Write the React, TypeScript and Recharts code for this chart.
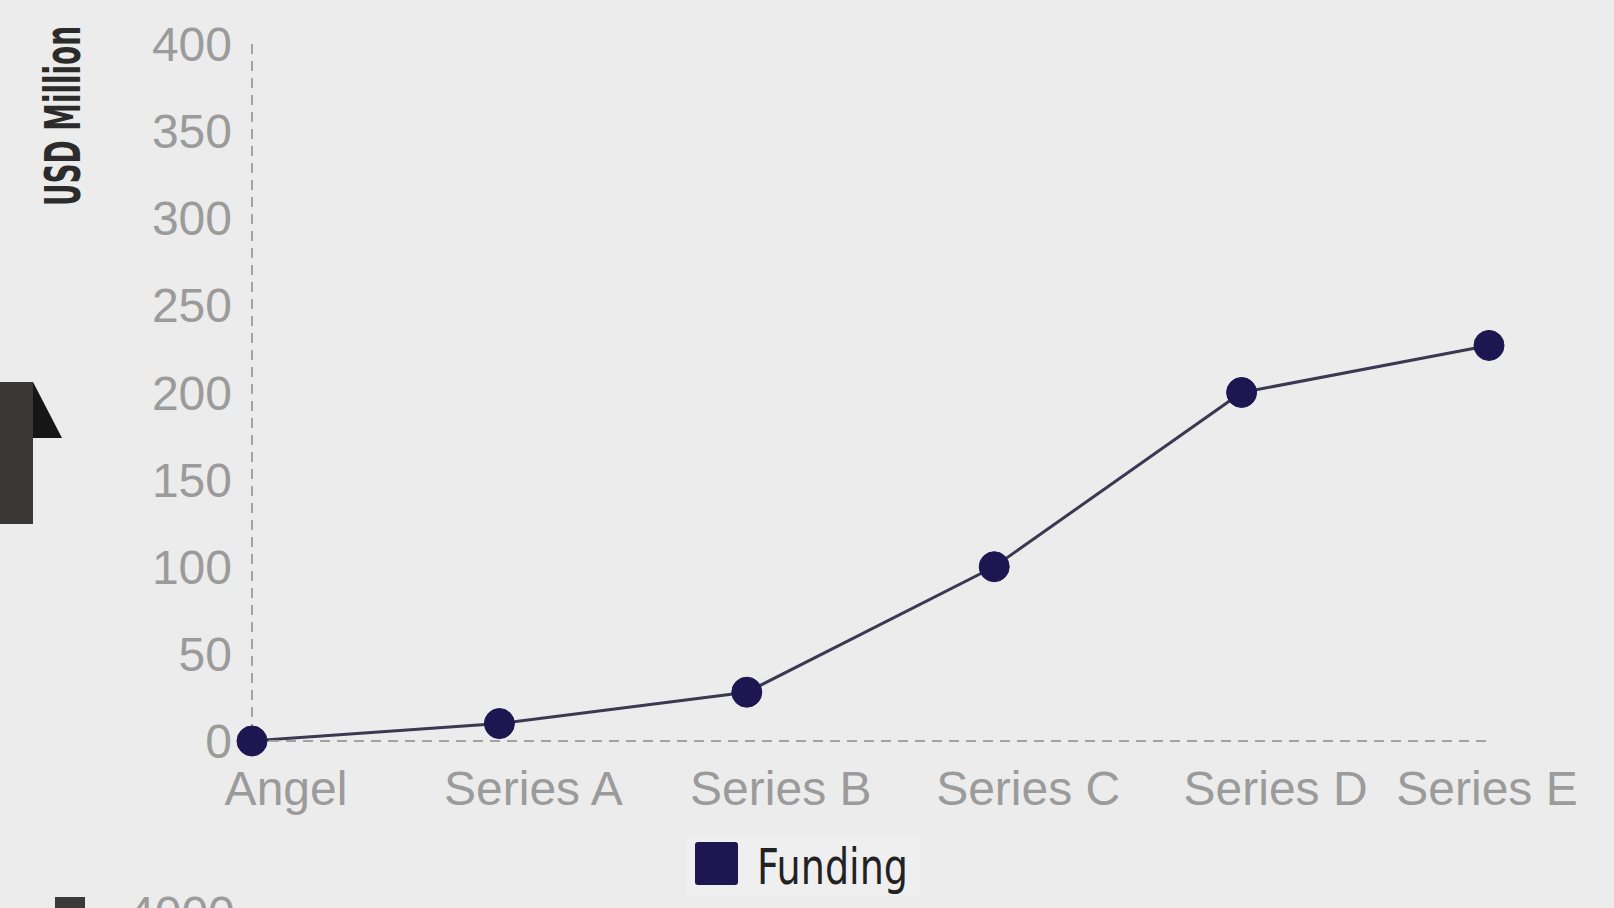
import React from 'react';
import { LineChart, Line, XAxis, YAxis } from 'recharts';

const categories = ['Angel', 'Series A', 'Series B', 'Series C', 'Series D', 'Series E'];
const funding = [0, 10, 28, 100, 200, 227];
const yTicks = [0, 50, 100, 150, 200, 250, 300, 350, 400];
const seriesName = 'Funding';
const axisTitle = 'USD Million';

const data = categories.map((stage, i) => ({ stage, funding: funding[i] }));

const FONT = '"Liberation Sans", Arial, Helvetica, sans-serif';
const TICK_COLOR = '#9b9b9b';
const LAST = categories[categories.length - 1];

const XTick = (props: any) => {
  const { x, y, payload } = props;
  const shift = payload.value === LAST ? -2 : 34;
  return (
    <text x={x + shift} y={y + 62} textAnchor="middle" fontSize={48} fill={TICK_COLOR} fontFamily={FONT}>
      {payload.value}
    </text>
  );
};

export default function App() {
  return (
    <div style={{ position: 'absolute', left: 0, top: 0, width: 1614, height: 908, overflow: 'hidden', background: '#ececec' }}>
      <LineChart width={1614} height={908} data={data} margin={{ top: 44, right: 125, left: 152, bottom: 67 }}>
        <XAxis
          dataKey="stage"
          scale="point"
          padding={{ left: 0, right: 0 }}
          interval={0}
          height={100}
          tickLine={false}
          axisLine={{ stroke: '#a2a2a2', strokeWidth: 2, strokeDasharray: '10 7' }}
          tickSize={0}
          tick={<XTick />}
        />
        <YAxis
          type="number"
          domain={[0, 400]}
          ticks={yTicks}
          interval={0}
          width={100}
          tickLine={false}
          tickSize={0}
          tickMargin={20}
          axisLine={{ stroke: '#a2a2a2', strokeWidth: 2, strokeDasharray: '10 7' }}
          tick={{ fontSize: 48, fill: TICK_COLOR, fontFamily: FONT }}
        />
        <Line
          dataKey="funding"
          name={seriesName}
          stroke="#3b3852"
          strokeWidth={3}
          dot={{ r: 15, fill: '#1d1650', stroke: '#1d1650', strokeWidth: 1 }}
          activeDot={false}
          isAnimationActive={false}
        />
      </LineChart>
      <svg width={1614} height={908} style={{ position: 'absolute', left: 0, top: 0, pointerEvents: 'none' }}>
        <text
          transform="translate(80,116) rotate(-90)"
          textAnchor="middle"
          fontSize={50}
          fontWeight="bold"
          fill="#2b2b2b"
          fontFamily='"DejaVu Sans Condensed", "DejaVu Sans", sans-serif'
          textLength={180}
          lengthAdjust="spacingAndGlyphs"
        >
          {axisTitle}
        </text>
        <polygon points="0,382 33,382 33,524 0,524" fill="#3a3734" />
        <polygon points="33,382 62,438 33,438" fill="#161616" />
        <rect x={686} y={834} width={234} height={62} fill="#efefef" />
        <rect x={695} y={842} width={43} height={43} rx={3} fill="#1e1650" />
        <text
          x={757}
          y={884}
          fontSize={50}
          fill="#222"
          fontFamily='"DejaVu Sans Condensed", "DejaVu Sans", sans-serif'
          textLength={151}
          lengthAdjust="spacingAndGlyphs"
        >
          {seriesName}
        </text>
        <text x={128} y={930} fontSize={48} fill={TICK_COLOR} fontFamily={FONT}>4000</text>
        <rect x={55} y={897} width={30} height={14} fill="#3a3a3a" />
      </svg>
    </div>
  );
}
